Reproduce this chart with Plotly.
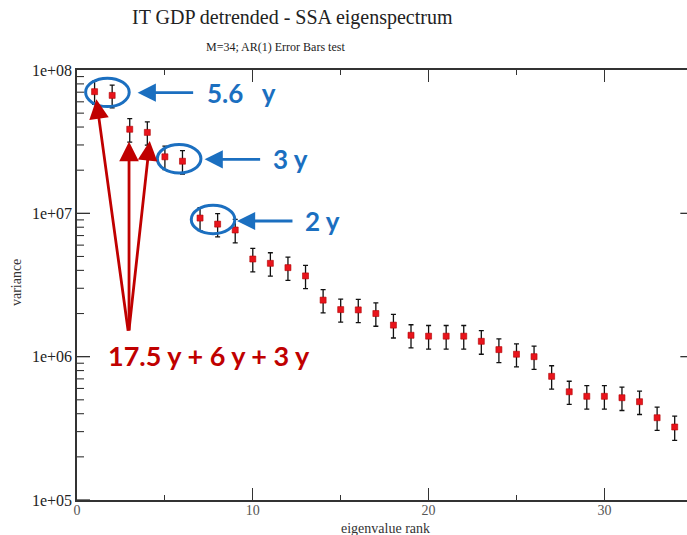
import plotly.graph_objects as go

# SSA eigenspectrum of detrended IT GDP, window M=34
rank = list(range(1, 35))
variance = [
    7.06e7, 6.65e7, 3.86e7, 3.67e7, 2.48e7, 2.31e7, 9.27e6, 8.41e6, 7.65e6,
    4.80e6, 4.48e6, 4.18e6, 3.66e6, 2.48e6, 2.13e6, 2.12e6, 2.00e6, 1.66e6,
    1.41e6, 1.39e6, 1.39e6, 1.39e6, 1.28e6, 1.12e6, 1.04e6, 1.00e6, 7.29e5,
    5.69e5, 5.29e5, 5.29e5, 5.17e5, 4.85e5, 3.75e5, 3.23e5,
]
# AR(1) error bar half-widths
error = [
    1.30e7, 1.20e7, 7.2e6, 6.8e6, 4.6e6, 4.3e6, 1.70e6, 1.55e6, 1.42e6,
    8.9e5, 8.3e5, 7.7e5, 6.8e5, 4.6e5, 3.9e5, 3.9e5, 3.7e5, 3.1e5,
    2.6e5, 2.6e5, 2.6e5, 2.6e5, 2.4e5, 2.1e5, 1.9e5, 1.85e5, 1.35e5,
    1.05e5, 9.8e4, 9.8e4, 9.6e4, 9.0e4, 6.9e4, 6.2e4,
]

y_ticks = [1e5, 1e6, 1e7, 1e8]
y_ticktext = ["1e+05", "1e+06", "1e+07", "1e+08"]
x_ticks = [0, 10, 20, 30]

SERIF = "Liberation Serif, Times New Roman, serif"
BLUE = "#1b6fc0"
RED = "#c00000"
AX = "#333333"
PLOT_W = 610  # plot area width in px

fig = go.Figure()
fig.add_trace(go.Scatter(
    x=rank, y=variance, mode="markers",
    marker=dict(symbol="square", size=6, color="#e8141c",
                line=dict(color="#b00000", width=0.6)),
    error_y=dict(type="data", array=error, visible=True,
                 color="#111111", thickness=1.3, width=2.5),
    showlegend=False,
))

fig.update_layout(
    width=687, height=535,
    margin=dict(l=77, r=0, t=70, b=35),
    paper_bgcolor="white", plot_bgcolor="white",
    xaxis=dict(
        range=[0, 34.7], tickvals=x_ticks, ticks="inside", ticklen=12,
        tickwidth=1.3, tickcolor=AX, showline=True, linecolor=AX,
        linewidth=1.5, mirror="ticks", showgrid=False, zeroline=False,
        ticklabelstandoff=-4,
        tickfont=dict(family=SERIF, size=14, color="#555555"),
        minor=dict(tickvals=[5, 15, 25], ticks="inside", ticklen=5,
                   tickwidth=1.3, tickcolor=AX),
    ),
    yaxis=dict(
        type="log", range=[5, 8], tickvals=y_ticks, ticktext=y_ticktext,
        ticks="inside", ticklen=13, tickwidth=1.3, tickcolor=AX,
        showline=True, linecolor=AX, linewidth=1.5, mirror=False,
        showgrid=False, zeroline=False,
        tickfont=dict(family=SERIF, size=16, color="#222222"),
    ),
)

# log-axis tick marks along the left edge: decades long, digits 2..9 short
for d in range(5, 8):
    for k in range(1, 10):
        length = 13 if k == 1 else 7
        fig.add_shape(type="line", xref="paper", yref="y",
                      x0=0, x1=length / PLOT_W, y0=k * 10 ** d, y1=k * 10 ** d,
                      line=dict(color=AX, width=1.3 if k == 1 else 1.1))

# right-hand tick stubs at the decades
for v in y_ticks[1:3]:
    fig.add_shape(type="line", xref="x", yref="y", x0=34.32, x1=35,
                  y0=v, y1=v, line=dict(color=AX, width=1.3))

# titles and axis labels
fig.add_annotation(text="IT GDP detrended - SSA eigenspectrum", xref="paper",
                   yref="paper", x=0.353, y=1.121, xanchor="center",
                   yanchor="middle", showarrow=False,
                   font=dict(family=SERIF, size=20, color="#222222"))
fig.add_annotation(text="M=34; AR(1) Error Bars test", xref="paper",
                   yref="paper", x=0.3246, y=1.054, xanchor="center",
                   yanchor="middle", showarrow=False,
                   font=dict(family=SERIF, size=12, color="#222222"))
fig.add_annotation(text="variance", xref="paper", yref="paper", x=-0.098,
                   y=0.505, xanchor="center", yanchor="middle",
                   textangle=-90, showarrow=False,
                   font=dict(family=SERIF, size=14, color="#333333"))
fig.add_annotation(text="eigenvalue rank", xref="paper", yref="paper",
                   x=0.505, y=-0.067, xanchor="center", yanchor="middle",
                   showarrow=False,
                   font=dict(family=SERIF, size=14, color="#333333"))

# blue ellipses around the paired eigenvalues
for cx, cy in [(1.73, 0.948), (5.81, 0.7935), (7.74, 0.6523)]:
    fig.add_shape(type="circle", xref="x", yref="paper",
                  x0=cx - 1.24, x1=cx + 1.24, y0=cy - 0.033, y1=cy + 0.033,
                  line=dict(color=BLUE, width=3))

# blue period labels with arrows
for tip_x, tip_y, lab_x, label in [
    (3.45, 0.9472, 7.26, "5.6\u00a0\u00a0 y"),
    (7.26, 0.7923, 11.06, "3 y"),
    (9.10, 0.6488, 12.86, "2 y"),
]:
    fig.add_annotation(x=tip_x, y=tip_y, xref="x", yref="paper", ax=57, ay=0,
                       axref="pixel", ayref="pixel", showarrow=True,
                       arrowhead=2, arrowsize=1.3, arrowwidth=2.8,
                       arrowcolor=BLUE, standoff=0, text="")
    fig.add_annotation(x=lab_x, y=tip_y, xref="x", yref="paper",
                       xanchor="left", yanchor="middle", showarrow=False,
                       text=label,
                       font=dict(family="Lato", size=26, color=BLUE,
                                 weight="bold"))

# red arrows converging on the trend components
for tip_x, tip_y, ax, ay in [
    (1.10, 0.9319, 32, 233),
    (2.96, 0.8333, 0, 190),
    (4.14, 0.8349, -21, 191),
]:
    fig.add_annotation(x=tip_x, y=tip_y, xref="x", yref="paper", ax=ax, ay=ay,
                       axref="pixel", ayref="pixel", showarrow=True,
                       arrowhead=2, arrowsize=1.4, arrowwidth=2.8,
                       arrowcolor=RED, standoff=0, text="")
fig.add_annotation(x=7.52, y=0.336, xref="x", yref="paper", xanchor="center",
                   yanchor="middle", showarrow=False,
                   text="17.5 y + 6 y + 3 y",
                   font=dict(family="Lato", size=27, color=RED, weight="bold"))

fig.write_html("out.html")
